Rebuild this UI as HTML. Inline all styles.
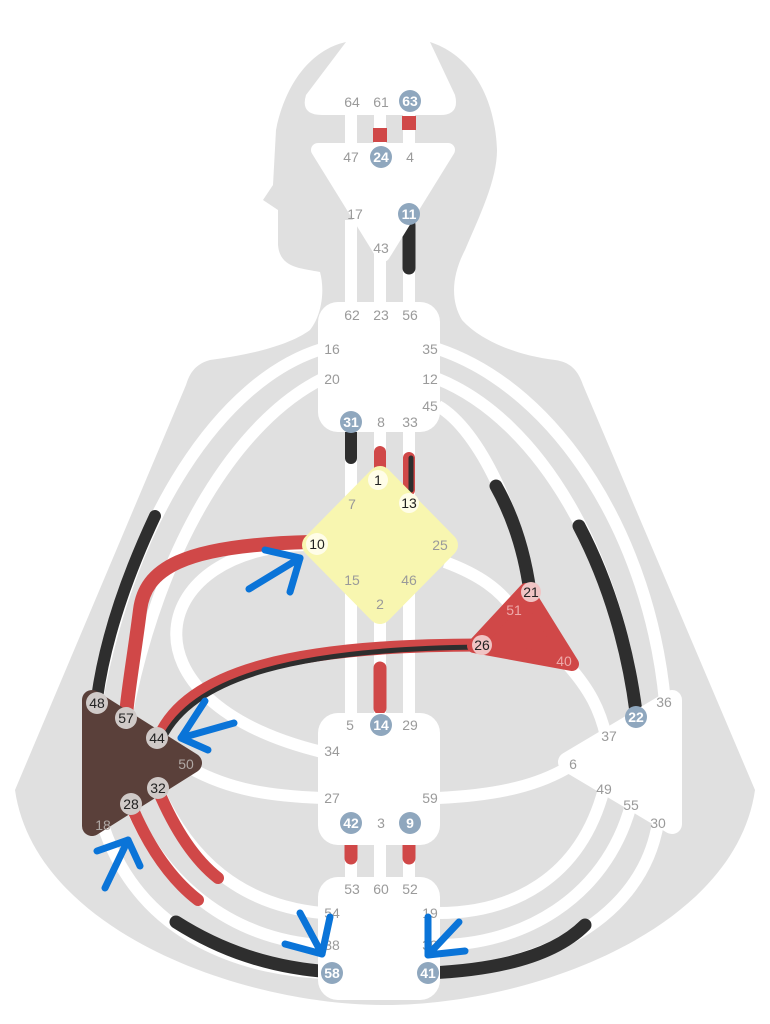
<!DOCTYPE html>
<html><head><meta charset="utf-8"><style>
html,body{margin:0;padding:0;background:#fff;}
svg{display:block;}
text{font-family:"Liberation Sans",sans-serif;font-size:14px;fill:#9a9a9a;text-anchor:middle;dominant-baseline:central;}
.b{fill:#fff;font-weight:bold;}
.d{fill:#222;}
</style></head><body>
<svg width="770" height="1024" viewBox="0 0 770 1024" xmlns="http://www.w3.org/2000/svg">
<path fill="#e0e0e0" d="M346 42 C310 50 285 85 276 130 L273 185 L263 200 L278 210 L278 245 C280 268 300 268 320 272 C325 290 322 315 310 330 C290 345 250 355 210 360 C196 364 190 372 186 385 L15 790 C35 930 240 1005 385 1005 C530 1005 735 930 755 790 L583 385 C578 370 570 362 555 360 C515 355 480 340 462 320 C450 300 452 275 465 250 C480 215 497 180 497 150 C495 95 470 55 430 42 Z"/>
<g fill="none" stroke="#fff" stroke-width="12">
<line x1="351" y1="110" x2="351" y2="150"/><line x1="380" y1="110" x2="380" y2="150"/><line x1="409" y1="110" x2="409" y2="150"/>
<line x1="351" y1="220" x2="351" y2="310"/><line x1="380" y1="240" x2="380" y2="310"/><line x1="409" y1="220" x2="409" y2="310"/>
<line x1="351" y1="425" x2="351" y2="720"/><line x1="380" y1="425" x2="380" y2="720"/><line x1="409" y1="425" x2="409" y2="720"/>
<line x1="351" y1="835" x2="351" y2="885"/><line x1="380" y1="835" x2="380" y2="885"/><line x1="409" y1="835" x2="409" y2="885"/>
<path d="M322 349 C220 380 130 520 97 700"/>
<path d="M322 379 C240 420 160 540 126 718"/>
<path d="M310 545 C150 545 110 700 322 752"/>
<path d="M190 768 C230 790 270 796 322 798"/>
<path d="M158 790 C190 860 240 905 322 913"/>
<path d="M131 805 C160 880 230 940 322 945"/>
<path d="M103 825 C140 940 250 972 332 973"/>
<path d="M438 349 C560 390 650 540 665 702"/>
<path d="M438 379 C540 420 620 560 636 717"/>
<path d="M438 406 C480 430 520 520 530 592"/>
<path d="M445 562 C480 575 500 590 514 610"/>
<path d="M568 665 C590 690 600 710 606 736"/>
<path d="M438 798 C500 795 540 785 572 765"/>
<path d="M604 789 C580 880 510 913 438 913"/>
<path d="M631 805 C605 900 520 945 438 945"/>
<path d="M658 823 C640 930 520 972 428 973"/>
</g>
<g fill="none" stroke-linecap="round">
<rect x="373" y="128" width="14" height="14" fill="#d04848" stroke="none"/>
<rect x="402" y="116" width="14" height="14" fill="#d04848" stroke="none"/>
<line x1="409" y1="225" x2="409" y2="268" stroke="#2e2e2e" stroke-width="13"/>
<line x1="351" y1="432" x2="351" y2="458" stroke="#2e2e2e" stroke-width="12"/>
<line x1="380" y1="452" x2="380" y2="470" stroke="#d04848" stroke-width="12"/>
<line x1="409" y1="458" x2="409" y2="490" stroke="#d04848" stroke-width="12"/>
<line x1="411" y1="458" x2="411" y2="490" stroke="#2e2e2e" stroke-width="5"/>
<line x1="380" y1="668" x2="380" y2="708" stroke="#d04848" stroke-width="13"/>
<line x1="351" y1="838" x2="351" y2="858" stroke="#d04848" stroke-width="13"/>
<line x1="409" y1="838" x2="409" y2="858" stroke="#d04848" stroke-width="13"/>
<path d="M155 516 C125 580 105 640 97 698" stroke="#2e2e2e" stroke-width="12"/>
<path d="M310 542 C180 545 145 570 140 610 C135 650 128 690 126 715" stroke="#d04848" stroke-width="14"/>
<path d="M480 645 C300 645 190 670 160 736" stroke="#d04848" stroke-width="13"/>
<path d="M480 647 C300 649 195 676 164 738" stroke="#2e2e2e" stroke-width="5"/>
<path d="M158 790 C175 830 195 860 218 878" stroke="#d04848" stroke-width="12"/>
<path d="M131 805 C150 850 172 880 198 900" stroke="#d04848" stroke-width="12"/>
<path d="M176 922 C220 950 270 968 332 972" stroke="#2e2e2e" stroke-width="13"/>
<path d="M496 486 C515 520 525 555 530 592" stroke="#2e2e2e" stroke-width="13"/>
<path d="M579 526 C610 585 628 650 636 712" stroke="#2e2e2e" stroke-width="13"/>
<path d="M428 973 C500 970 555 955 585 925" stroke="#2e2e2e" stroke-width="13"/>
</g>
<path fill="#fff" d="M346 42 L430 42 L455 95 Q460 115 440 115 L322 115 Q300 115 306 95 Z"/>
<path fill="#fff" stroke="#fff" stroke-width="14" stroke-linejoin="round" d="M318 150 L448 150 L383 255 Z"/>
<rect x="318" y="302" width="122" height="130" rx="20" fill="#fff"/>
<rect x="318" y="713" width="122" height="132" rx="20" fill="#fff"/>
<rect x="318" y="877" width="122" height="123" rx="20" fill="#fff"/>
<path fill="#f8f6b0" stroke="#f8f6b0" stroke-width="24" stroke-linejoin="round" d="M380 478 L446 545 L380 612 L314 545 Z"/>
<path fill="#5a403a" stroke="#5a403a" stroke-width="20" stroke-linejoin="round" d="M92 700 L192 763 L92 826 Z"/>
<path fill="#d04848" stroke="#d04848" stroke-width="14" stroke-linejoin="round" d="M526 590 L572 664 L474 646 Z"/>
<path fill="#fff" stroke="#fff" stroke-width="20" stroke-linejoin="round" d="M568 762 L672 700 L672 824 Z"/>
<g>
<text x="352" y="102">64</text><text x="381" y="102">61</text>
<circle cx="410" cy="101" r="11" fill="#8fa7be"/><text class="b" x="410" y="101">63</text>
<text x="351" y="157">47</text><circle cx="381" cy="157" r="11" fill="#8fa7be"/><text class="b" x="381" y="157">24</text><text x="410" y="157">4</text>
<text x="355" y="214">17</text><circle cx="409" cy="214" r="11" fill="#8fa7be"/><text class="b" x="409" y="214">11</text>
<text x="381" y="248">43</text>
<text x="352" y="315">62</text><text x="381" y="315">23</text><text x="410" y="315">56</text>
<text x="332" y="349">16</text><text x="332" y="379">20</text>
<text x="430" y="349">35</text><text x="430" y="379">12</text><text x="430" y="406">45</text>
<circle cx="351" cy="422" r="11" fill="#8fa7be"/><text class="b" x="351" y="422">31</text>
<text x="381" y="422">8</text><text x="410" y="422">33</text>
<circle cx="378" cy="480" r="10" fill="#fffde8"/><text class="d" x="378" y="480">1</text>
<text x="352" y="504" style="fill:#999">7</text>
<circle cx="409" cy="503" r="10" fill="#fffde8"/><text class="d" x="409" y="503">13</text>
<circle cx="317" cy="544" r="11" fill="#fffde8"/><text class="d" x="317" y="544">10</text>
<text x="440" y="545">25</text><text x="352" y="580">15</text><text x="409" y="580">46</text><text x="380" y="604">2</text>
<circle cx="531" cy="592" r="10" fill="#f0c4c4"/><text class="d" x="531" y="592">21</text>
<text x="514" y="610" style="fill:#eaa">51</text>
<circle cx="482" cy="645" r="10" fill="#f0c4c4"/><text class="d" x="482" y="645">26</text>
<text x="564" y="661" style="fill:#eaa">40</text>
<circle cx="97" cy="703" r="11" fill="#d0cac8"/><text class="d" x="97" y="703">48</text>
<circle cx="126" cy="718" r="11" fill="#d0cac8"/><text class="d" x="126" y="718">57</text>
<circle cx="157" cy="738" r="11" fill="#d0cac8"/><text class="d" x="157" y="738">44</text>
<text x="186" y="764" style="fill:#b0a8a5">50</text>
<circle cx="158" cy="788" r="11" fill="#d0cac8"/><text class="d" x="158" y="788">32</text>
<circle cx="131" cy="804" r="11" fill="#d0cac8"/><text class="d" x="131" y="804">28</text>
<text x="103" y="825" style="fill:#b0a8a5">18</text>
<text x="664" y="702">36</text><circle cx="636" cy="717" r="11" fill="#8fa7be"/><text class="b" x="636" y="717">22</text>
<text x="609" y="736">37</text><text x="573" y="764">6</text><text x="604" y="789">49</text><text x="631" y="805">55</text><text x="658" y="823">30</text>
<text x="350" y="725">5</text><circle cx="381" cy="725" r="11" fill="#8fa7be"/><text class="b" x="381" y="725">14</text><text x="410" y="725">29</text>
<text x="332" y="751">34</text><text x="332" y="798">27</text><text x="430" y="798">59</text>
<circle cx="351" cy="823" r="11" fill="#8fa7be"/><text class="b" x="351" y="823">42</text><text x="381" y="823">3</text>
<circle cx="410" cy="823" r="11" fill="#8fa7be"/><text class="b" x="410" y="823">9</text>
<text x="352" y="889">53</text><text x="381" y="889">60</text><text x="410" y="889">52</text>
<text x="332" y="913">54</text><text x="332" y="945">38</text><text x="430" y="913">19</text><text x="430" y="945">39</text>
<circle cx="332" cy="973" r="11" fill="#8fa7be"/><text class="b" x="332" y="973">58</text>
<circle cx="428" cy="973" r="11" fill="#8fa7be"/><text class="b" x="428" y="973">41</text>
</g>
<g fill="none" stroke="#0a74d8" stroke-width="7" stroke-linecap="round" stroke-linejoin="round">
<path d="M249 589 L300 558"/><path d="M265 550 L300 558 L290 592"/>
<path d="M234 723 L181 738"/><path d="M205 701 L181 738 L208 750"/>
<path d="M105 888 L128 840"/><path d="M97 851 L128 840 L140 866"/>
<path d="M300 913 L322 954"/><path d="M285 944 L322 954 L330 917"/>
<path d="M459 922 L428 955"/><path d="M428 917 L428 955 L465 951"/>
</g>
</svg>
</body></html>
